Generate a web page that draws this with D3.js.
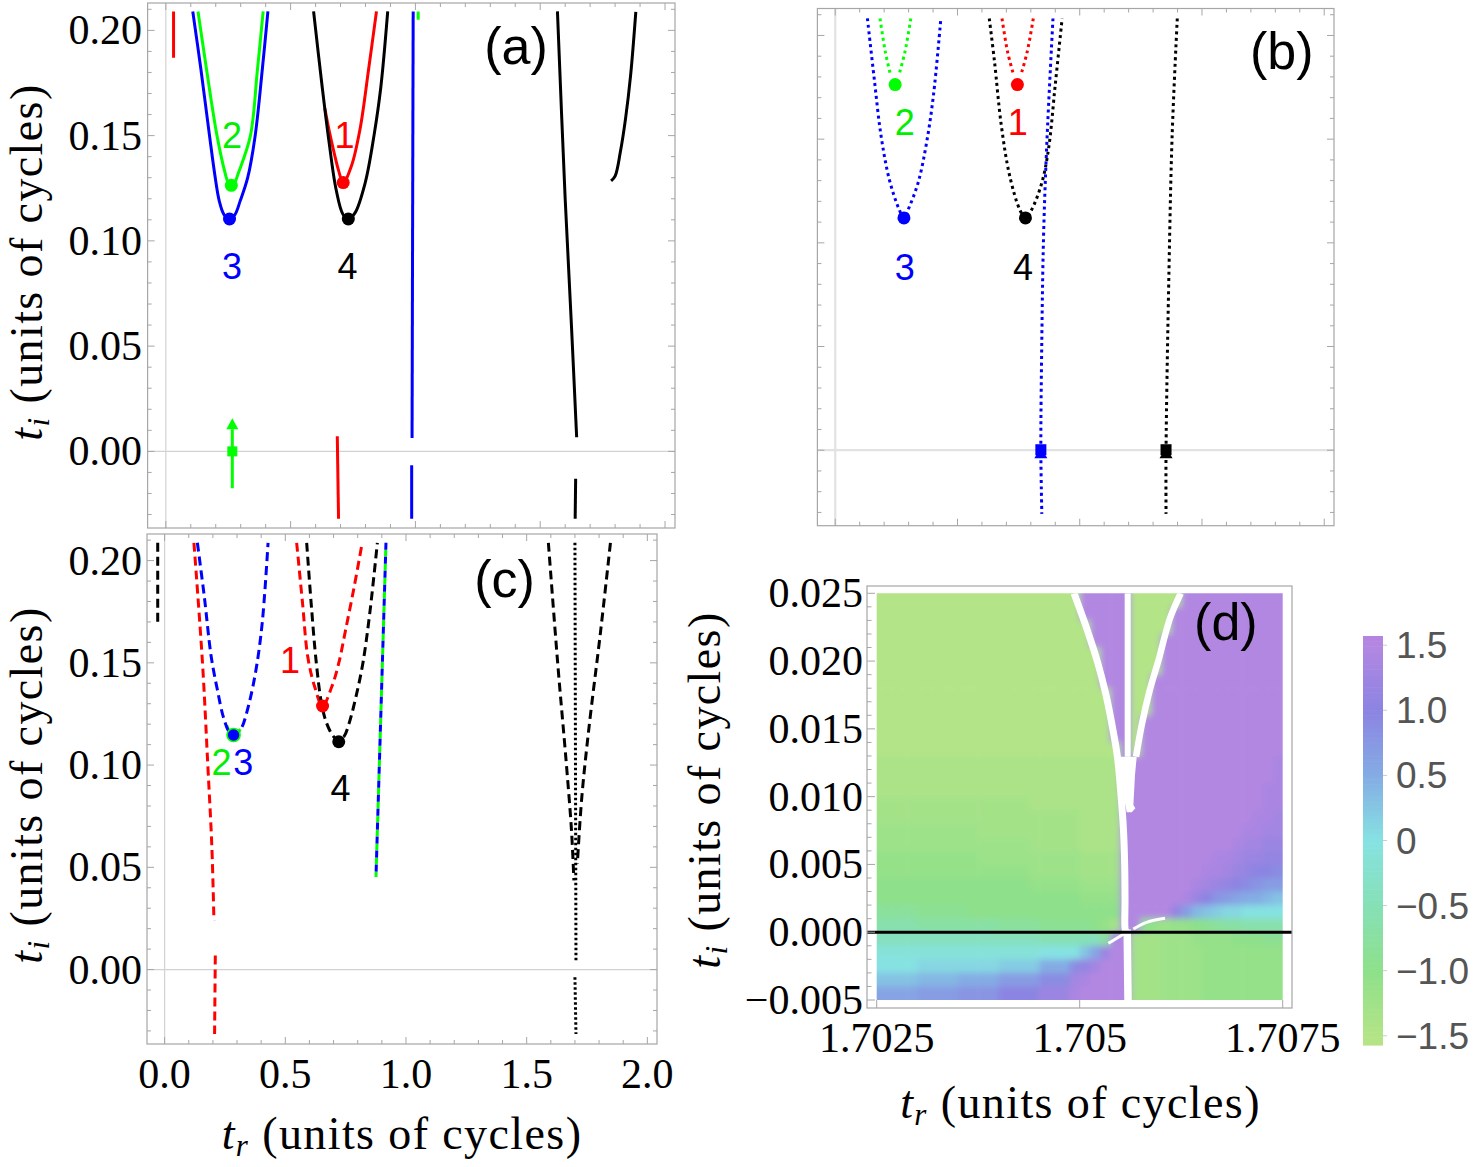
<!DOCTYPE html>
<html>
<head>
<meta charset="utf-8">
<script src="https://cdn.jsdelivr.net/npm/d3@7/dist/d3.min.js"></script>
<style>
html,body{margin:0;padding:0;background:#fff;}
svg{display:block;}
</style>
</head>
<body>
<svg id="chart" width="1475" height="1167" xmlns="http://www.w3.org/2000/svg"></svg>
<script>
// ================= DATA =================
const xTickValues = [0, 0.5, 1, 1.5, 2];
const xTickLabels = ["0.0", "0.5", "1.0", "1.5", "2.0"];
const yTickValues = [0, 0.05, 0.1, 0.15, 0.2];
const yTickLabels = ["0.00", "0.05", "0.10", "0.15", "0.20"];
const xDomain = [-0.073, 2.04];
const yDomain = [-0.0364, 0.213];

// ---- panel (a): solid curves (t_r, t_i) ----
const aBlue3 = [[0.108,0.209],[0.140,0.182],[0.175,0.150],[0.198,0.130],[0.214,0.119],[0.233,0.1125],[0.255,0.1104],[0.277,0.1125],[0.298,0.119],[0.328,0.130],[0.358,0.150],[0.387,0.182],[0.409,0.209]];
const aGreen2 = [[0.129,0.209],[0.165,0.180],[0.205,0.150],[0.238,0.132],[0.250,0.1275],[0.262,0.1264],[0.275,0.1275],[0.290,0.132],[0.339,0.150],[0.366,0.180],[0.390,0.209]];
const aRed1 = [[0.637,0.163],[0.655,0.152],[0.673,0.1425],[0.692,0.1335],[0.7107,0.1277],[0.744,0.1357],[0.778,0.153],[0.813,0.182],[0.844,0.209]];
const aBlack4 = [[0.592,0.209],[0.627,0.1726],[0.654,0.1469],[0.682,0.1245],[0.710,0.1125],[0.7312,0.1104],[0.758,0.1133],[0.799,0.1277],[0.834,0.150],[0.861,0.1726],[0.889,0.209]];
const aRedTop = [[0.031,0.209],[0.031,0.187]];
const aRedLow = [[0.687,0.0072],[0.692,-0.032]];
const aBlueVert = [[0.991,0.209],[0.9865,0.0063]];
const aBlueVertLow = [[0.985,-0.0066],[0.985,-0.032]];
const aGreenTop = [[1.011,0.209],[1.011,0.205]];
const aBlackVert = [[1.569,0.209],[1.600,0.120],[1.625,0.060],[1.646,0.0067]];
const aBlackVertLow = [[1.642,-0.013],[1.640,-0.032]];
const aBlackRight = [[1.784,0.1285],[1.8005,0.1309],[1.821,0.1422],[1.842,0.1582],[1.8625,0.1791],[1.883,0.2088]];
const aGreenArrow = {x: 0.2664, yLow: -0.0175, yBase: 0.0105, yTip: 0.0157, yMark: 0};
const aDots = [[0.2552,0.1104,"#0000ff"],[0.2624,0.1264,"#00ff00"],[0.7107,0.1277,"#ff0000"],[0.7312,0.1104,"#000000"]];
const aNumLabels = [["2",0.265,0.1505,"#00ee00"],["1",0.716,0.1505,"#ff0000"],["3",0.265,0.0883,"#0000ff"],["4",0.728,0.0883,"#000000"]];

// ---- panel (b): dotted curves ----
const bGreenL = [[0.183,0.2082],[0.205,0.192],[0.224,0.182]];
const bGreenR = [[0.309,0.2082],[0.285,0.192],[0.263,0.182]];
const bRedL = [[0.682,0.2082],[0.705,0.192],[0.727,0.182]];
const bRedR = [[0.810,0.2082],[0.785,0.192],[0.762,0.182]];
const bBlue3 = [[0.1316,0.2082],[0.159,0.1796],[0.187,0.1519],[0.221,0.1306],[0.259,0.1168],[0.281,0.1119],[0.2977,0.1159],[0.339,0.129],[0.374,0.1486],[0.402,0.1715],[0.432,0.2082]];
const bBlack4 = [[0.630,0.2082],[0.651,0.1878],[0.679,0.1568],[0.7135,0.1323],[0.755,0.1159],[0.778,0.1119],[0.803,0.1159],[0.845,0.129],[0.8725,0.1454],[0.900,0.1764],[0.928,0.2082]];
const bBlueVert = [[0.8906,0.2082],[0.8656,0.1486],[0.852,0.103],[0.845,0.0541],[0.841,0],[0.845,-0.0307]];
const bBlackVert = [[1.399,0.2082],[1.378,0.1519],[1.365,0.0867],[1.353,0],[1.353,-0.0307]];
const bDots = [[0.245,0.1763,"#00ff00"],[0.745,0.1763,"#ff0000"],[0.281,0.112,"#0000ff"],[0.778,0.112,"#000000"]];
const bSquares = [[0.841,0,"#0000ff"],[1.353,0,"#000000"]];
const bNumLabels = [["2",0.284,0.1584,"#00ee00"],["1",0.747,0.1584,"#ff0000"],["3",0.284,0.0883,"#0000ff"],["4",0.768,0.0883,"#000000"]];

// ---- panel (c): dashed curves ----
const cBlackLeft = [[-0.0286,0.2087],[-0.0286,0.1694]];
const cRedLong = [[0.1214,0.2087],[0.157,0.1498],[0.1786,0.1008],[0.1957,0.060],[0.2043,0.024]];
const cRedLow = [[0.210,0.0069],[0.207,-0.0315]];
const cBlue23 = [[0.1357,0.2087],[0.1643,0.1825],[0.1929,0.1531],[0.2186,0.1368],[0.2429,0.1237],[0.2671,0.1163],[0.2857,0.1147],[0.3071,0.1163],[0.3214,0.1188],[0.35,0.1302],[0.3786,0.1466],[0.4043,0.1694],[0.4286,0.2087]];
const cGreenTip = [[0.2571,0.1195],[0.2714,0.1158],[0.2857,0.1147],[0.3000,0.1157],[0.3143,0.1175]];
const cRed1 = [[0.5471,0.2087],[0.5714,0.1792],[0.5929,0.1531],[0.6214,0.1384],[0.6543,0.1289],[0.6929,0.1384],[0.7214,0.1498],[0.75,0.1662],[0.7857,0.1874],[0.8186,0.2087]];
const cBlack4 = [[0.5886,0.2087],[0.6071,0.1792],[0.6286,0.1498],[0.65,0.1302],[0.6714,0.1204],[0.70,0.1139],[0.7214,0.1119],[0.7429,0.1139],[0.7643,0.1204],[0.7929,0.1335],[0.8214,0.1498],[0.85,0.1743],[0.8814,0.2087]];
const cBlueGreenVert = [[0.9171,0.2087],[0.8757,0.0453]];
const cBlackVL = [[1.590,0.2087],[1.6286,0.1498],[1.6643,0.1008],[1.6857,0.0681],[1.6957,0.0436]];
const cBlackVR = [[1.8471,0.2087],[1.8071,0.1662],[1.7571,0.1172],[1.7286,0.0845],[1.710,0.0518]];
const cBlackMid = [[1.700,0.2087],[1.7043,0.0036]];
const cBlackMidLow = [[1.700,-0.0038],[1.7043,-0.0315]];
const cDots = [[0.6543,0.1289,"#ff0000","none"],[0.7214,0.1114,"#000000","none"],[0.2857,0.1147,"#0000ff","#00ff00"]];
const cNumLabels = [["1",0.5195,0.1512,"#ff0000"],["2",0.2357,0.1016,"#00ee00"],["3",0.3257,0.1016,"#0000ff"],["4",0.7286,0.0886,"#000000"]];

// ---- panel (d): phase density plot ----
const dXDomain = [1.7025, 1.7075];
const dYDomain = [-0.005, 0.025];
const dXTickValues = [1.7025, 1.705, 1.7075];
const dXTickLabels = ["1.7025", "1.705", "1.7075"];
const dYTickValues = [-0.005, 0, 0.005, 0.01, 0.015, 0.02, 0.025];
const dYTickLabels = ["\u22120.005", "0.000", "0.005", "0.010", "0.015", "0.020", "0.025"];
// grid: 40 columns x 30 rows (top row first), run-length encoded; letter index -> value -1.5 + 0.1*idx
const phaseLevels = "abcdefghijklmnopqrstuvwxyzABCDE";
const phaseRows = [
  "a20 E5 a5 E10", "a20 E5 a4 E11", "a21 E4 a4 E11", "a21 E4 a3 E12", "a22 E3 a3 E12",
  "a22 E3 a3 E12", "a22 E3 a2 E13", "a23 E2 a2 E13", "a23 E2 a2 E13", "a23 E2 a1 E14",
  "a23 E2 a1 E14", "a24 E1 a1 E14", "b24 E15 D1", "b24 E15 D1", "b24 E14 D2",
  "c15 b9 E14 D2", "c20 b4 E13 D2 C1", "d10 c10 b4 E12 D2 C2", "d15 c5 b4 E11 D1 C2 B2", "e10 d10 c4 E9 D2 C1 B2 A2",
  "e15 d5 c4 E8 D2 C1 B1 A1 z2 y1", "f15 e5 d4 E7 D1 C1 B1 A1 z1 y1 x1 w2", "f20 e4 E6 D1 B1 z1 x1 w1 v1 u2 t1 s1", "h4 g5 f15 E5 A1 w1 t1 s1 r1 q2 p4", "j4 i8 h4 g5 f1 e1 c1 E2 f1 e1 d1 e2 f1 g1 h1 i2 j4",
  "l16 k5 l1 h1 D1 E1 c3 d3 e4 f3 g2", "o16 p4 s1 v1 B1 E1 E1 c3 d4 e8", "p4 q8 r4 u3 y1 A1 C1 E2 E1 c3 d4 e8", "s4 t4 u4 w4 y3 C1 D1 E3 E1 c3 d4 e8", "v4 w4 x4 z4 B3 D1 E4 E1 c3 d4 e8"
];
const dCut1 = [[1.704930,0.025],[1.705086,0.022418],[1.705218,0.019959],[1.705324,0.0175],[1.705406,0.015041],[1.705464,0.012951],[1.705505,0.010369],[1.705538,0.007664],[1.705554,0.004959],[1.705558,0.002254],[1.705558,0.000287],[1.705575,-0.0002]];
const dBand2 = [[1.705591,0.025],[1.705591,0.012951]];
const dCut3 = [[1.706244,0.025],[1.706112,0.023156],[1.705977,0.020205],[1.705858,0.017746],[1.705764,0.015287],[1.705694,0.012951]];
const dBlob = [[1.705476,0.012951],[1.705702,0.012951],[1.705681,0.011598],[1.705661,0.009385],[1.705686,0.009139],[1.705641,0.008844],[1.705579,0.008844],[1.705538,0.010123],[1.705505,0.011598]];
const dBar = [[1.705585,0.0002],[1.705595,-0.005]];
const dArcA = [[1.705353,-0.00082],[1.705456,-0.000451],[1.705538,-0.000156]];
const dArcB = [[1.706051,0.001025],[1.705825,0.00073],[1.705661,0.000238]];

// colour bar
const cbTickValues = [-1.5, -1, -0.5, 0, 0.5, 1, 1.5];
const cbTickLabels = ["\u22121.5", "\u22121.0", "\u22120.5", "0", "0.5", "1.0", "1.5"];
const cbStops = [-1.5708, -1.5, -1, -0.5, 0, 0.5, 1, 1.5, 1.5708];
const cbColors = ["#b6e485", "#b3e487", "#8ee08a", "#86e0b6", "#86e2e2", "#84ace4", "#8c84e2", "#b287e2", "#b683e0"];

// ================= DRAWING =================
const SERIF = "'Liberation Serif','Times New Roman',serif";
const SANS = "'Liberation Sans',Arial,Helvetica,sans-serif";
const svg = d3.select("#chart");
const defs = svg.append("defs");

const panelBoxes = {
  a: {x: [147.6, 675], y: [528, 3]},
  b: {x: [817.4, 1334], y: [525.7, 8.5]},
  c: {x: [147, 657], y: [1044, 534]}
};

function makePanel(key, zeroW, zeroC) {
  const box = panelBoxes[key];
  const xs = d3.scaleLinear().domain(xDomain).range(box.x);
  const ys = d3.scaleLinear().domain(yDomain).range(box.y);
  const g = svg.append("g");
  defs.append("clipPath").attr("id", "clip-" + key).append("rect")
    .attr("x", box.x[0]).attr("y", box.y[1]).attr("width", box.x[1] - box.x[0]).attr("height", box.y[0] - box.y[1]);
  g.append("line").attr("x1", xs(0)).attr("x2", xs(0)).attr("y1", box.y[1]).attr("y2", box.y[0])
    .attr("stroke", zeroC).attr("stroke-width", zeroW);
  g.append("line").attr("x1", box.x[0]).attr("x2", box.x[1]).attr("y1", ys(0)).attr("y2", ys(0))
    .attr("stroke", zeroC).attr("stroke-width", zeroW);
  g.append("rect").attr("x", box.x[0]).attr("y", box.y[1]).attr("width", box.x[1] - box.x[0]).attr("height", box.y[0] - box.y[1])
    .attr("fill", "none").attr("stroke", "#a6a6a6").attr("stroke-width", 1.2);
  const tg = g.append("g").attr("stroke", "#a6a6a6").attr("stroke-width", 1);
  d3.range(0, 2.0001, 0.1).forEach(v => {
    const L = Math.abs(v * 2 - Math.round(v * 2)) < 1e-6 ? 7 : 4;
    tg.append("line").attr("x1", xs(v)).attr("x2", xs(v)).attr("y1", box.y[0]).attr("y2", box.y[0] - L);
    tg.append("line").attr("x1", xs(v)).attr("x2", xs(v)).attr("y1", box.y[1]).attr("y2", box.y[1] + L);
  });
  d3.range(-0.03, 0.2101, 0.01).forEach(v => {
    const L = Math.abs(v * 20 - Math.round(v * 20)) < 1e-6 ? 7 : 4;
    tg.append("line").attr("y1", ys(v)).attr("y2", ys(v)).attr("x1", box.x[0]).attr("x2", box.x[0] + L);
    tg.append("line").attr("y1", ys(v)).attr("y2", ys(v)).attr("x1", box.x[1]).attr("x2", box.x[1] - L);
  });
  const plot = g.append("g").attr("clip-path", "url(#clip-" + key + ")");
  return {xs, ys, g, plot, box};
}

function drawLine(P, data, color, width, dash, offset) {
  const gen = d3.line().x(d => P.xs(d[0])).y(d => P.ys(d[1])).curve(d3.curveCatmullRom.alpha(0.5));
  const p = P.plot.append("path").attr("d", gen(data)).attr("fill", "none")
    .attr("stroke", color).attr("stroke-width", width).attr("stroke-linecap", "butt").attr("stroke-linejoin", "round");
  if (dash) p.attr("stroke-dasharray", dash);
  if (offset) p.attr("stroke-dashoffset", offset);
  return p;
}

function drawDots(P, dots, r) {
  dots.forEach(d => {
    P.plot.append("circle").attr("cx", P.xs(d[0])).attr("cy", P.ys(d[1])).attr("r", r)
      .attr("fill", d[2]).attr("stroke", d[3] && d[3] !== "none" ? d[3] : "none").attr("stroke-width", 1.6);
  });
}

function drawNums(P, labels) {
  labels.forEach(l => {
    P.g.append("text").attr("x", P.xs(l[1])).attr("y", P.ys(l[2]) + 13)
      .attr("text-anchor", "middle").attr("font-family", SANS).attr("font-size", 36)
      .attr("fill", l[3]).text(l[0]);
  });
}

function panelLetter(P, txt, x, y) {
  P.g.append("text").attr("x", P.xs(x)).attr("y", P.ys(y)).attr("text-anchor", "middle")
    .attr("font-family", SANS).attr("font-size", 52).attr("fill", "#000").text(txt);
}

function yTickText(P, xRight) {
  yTickValues.forEach((v, i) => {
    svg.append("text").attr("x", xRight).attr("y", P.ys(v) + 14).attr("text-anchor", "end")
      .attr("font-family", SERIF).attr("font-size", 42).attr("fill", "#000").text(yTickLabels[i]);
  });
}

function axisTitle(x, y, rotate, sub) {
  const t = svg.append("text")
    .attr("transform", "translate(" + x + "," + y + ")" + (rotate ? " rotate(-90)" : ""))
    .attr("text-anchor", "middle").attr("font-family", SERIF).attr("font-size", 46)
    .attr("letter-spacing", 1.4).attr("fill", "#000");
  t.append("tspan").attr("font-style", "italic").text("t");
  t.append("tspan").attr("font-style", "italic").attr("font-size", 31).attr("dy", 7).text(sub);
  t.append("tspan").attr("dy", -7).text(" (units of cycles)");
}

// ---------- panel (a) ----------
const A = makePanel("a", 1.2, "#d2d2d2");
const SW = 3;
drawLine(A, aBlue3, "#0000ff", SW);
drawLine(A, aGreen2, "#00ff00", SW);
drawLine(A, aRed1, "#ff0000", SW);
drawLine(A, aBlack4, "#000000", SW);
drawLine(A, aRedTop, "#ff0000", SW);
drawLine(A, aRedLow, "#ff0000", SW);
drawLine(A, aBlueVert, "#0000ff", SW);
drawLine(A, aBlueVertLow, "#0000ff", SW);
drawLine(A, aGreenTop, "#00ff00", SW);
drawLine(A, aBlackVert, "#000000", SW);
drawLine(A, aBlackVertLow, "#000000", SW);
drawLine(A, aBlackRight, "#000000", SW);
{
  const ax = A.xs(aGreenArrow.x);
  A.plot.append("line").attr("x1", ax).attr("x2", ax).attr("y1", A.ys(aGreenArrow.yLow)).attr("y2", A.ys(aGreenArrow.yBase))
    .attr("stroke", "#00ff00").attr("stroke-width", 3);
  const tip = A.ys(aGreenArrow.yTip), base = A.ys(aGreenArrow.yBase);
  A.plot.append("path").attr("d", `M${ax},${tip}L${ax - 6},${base}L${ax + 6},${base}Z`).attr("fill", "#00ff00");
  const my = A.ys(aGreenArrow.yMark);
  A.plot.append("rect").attr("x", ax - 5).attr("y", my - 5).attr("width", 10).attr("height", 10).attr("fill", "#00ff00");
}
drawDots(A, aDots, 6.5);
drawNums(A, aNumLabels);
panelLetter(A, "(a)", 1.403, 0.184);
yTickText(A, 142);
axisTitle(42, 262, true, "i");

// ---------- panel (b) ----------
const B = makePanel("b", 2.2, "#e2e2e2");
const DOT = "3,3.5";
drawLine(B, bBlue3, "#0000ff", 3, DOT);
drawLine(B, bBlack4, "#000000", 3, DOT);
drawLine(B, bGreenL, "#00ff00", 3, DOT);
drawLine(B, bGreenR, "#00ff00", 3, DOT);
drawLine(B, bRedL, "#ff0000", 3, DOT);
drawLine(B, bRedR, "#ff0000", 3, DOT);
drawLine(B, bBlueVert, "#0000ff", 3, DOT);
drawLine(B, bBlackVert, "#000000", 3, DOT);
drawDots(B, bDots, 6.5);
bSquares.forEach(s => {
  const sx = B.xs(s[0]), sy = B.ys(s[1]);
  B.plot.append("path").attr("d", `M${sx},${sy - 3}L${sx - 6.5},${sy + 8}L${sx + 6.5},${sy + 8}Z`).attr("fill", s[2]);
  B.plot.append("rect").attr("x", sx - 5.5).attr("y", sy - 6).attr("width", 11).attr("height", 11).attr("fill", s[2]);
});
drawNums(B, bNumLabels);
panelLetter(B, "(b)", 1.826, 0.1838);

// ---------- panel (c) ----------
const C = makePanel("c", 1.2, "#d2d2d2");
const DASH = "9,5";
drawLine(C, cBlackLeft, "#000000", 3, DASH);
drawLine(C, cRedLong, "#ff0000", 3, DASH);
drawLine(C, cRedLow, "#ff0000", 3, DASH);
drawLine(C, cGreenTip, "#00ff00", 3);
drawLine(C, cBlue23, "#0000ff", 3, DASH);
drawLine(C, cRed1, "#ff0000", 3, DASH);
drawLine(C, cBlack4, "#000000", 3, DASH);
drawLine(C, cBlueGreenVert, "#00ff00", 3, "7,7", 7);
drawLine(C, cBlueGreenVert, "#0000ff", 3, "7,7");
drawLine(C, cBlackVL, "#000000", 3, DASH);
drawLine(C, cBlackVR, "#000000", 3, DASH);
drawLine(C, cBlackMid, "#000000", 3, "2.5,2.5");
drawLine(C, cBlackMidLow, "#000000", 3, "2.5,2.5");
drawDots(C, cDots, 6.5);
drawNums(C, cNumLabels);
panelLetter(C, "(c)", 1.408, 0.182);
yTickText(C, 142);
xTickValues.forEach((v, i) => {
  svg.append("text").attr("x", C.xs(v)).attr("y", 1088).attr("text-anchor", "middle")
    .attr("font-family", SERIF).attr("font-size", 42).attr("fill", "#000").text(xTickLabels[i]);
});
axisTitle(42, 785, true, "i");
axisTitle(402, 1149, false, "r");

// ---------- panel (d) ----------
const dxs = d3.scaleLinear().domain(dXDomain).range([876.7, 1282.7]);
const dys = d3.scaleLinear().domain(dYDomain).range([1000, 593.3]);
const color = d3.scaleLinear().domain(cbStops).range(cbColors).clamp(true);
const D = svg.append("g");
defs.append("clipPath").attr("id", "clip-d").append("rect")
  .attr("x", dxs(dXDomain[0])).attr("y", dys(dYDomain[1])).attr("width", dxs(dXDomain[1]) - dxs(dXDomain[0])).attr("height", dys(dYDomain[0]) - dys(dYDomain[1]));
const soft = defs.append("filter").attr("id", "soft").attr("x", "-10%").attr("y", "-10%").attr("width", "120%").attr("height", "120%");
soft.append("feGaussianBlur").attr("stdDeviation", 3);
const dPlot = D.append("g").attr("clip-path", "url(#clip-d)");
const cellG = dPlot.append("g").attr("filter", "url(#soft)");
const nCols = 40, nRows = 30;
const dx = (dXDomain[1] - dXDomain[0]) / nCols, dyv = (dYDomain[1] - dYDomain[0]) / nRows;
const cells = [];
phaseRows.forEach((row, r) => {
  let c = 0;
  row.split(" ").forEach(tok => {
    const ch = tok[0], n = +tok.slice(1);
    const v = -1.5 + 0.1 * phaseLevels.indexOf(ch);
    for (let k = 0; k < n; k++) { cells.push({r, c, v}); c++; }
  });
});
const PAD = 14; // edge cells extended so the smoothing does not fade at the border
cellG.selectAll("rect.cell").data(cells).enter().append("rect").attr("class", "cell")
  .attr("x", d => dxs(dXDomain[0] + d.c * dx) - (d.c === 0 ? PAD : 0))
  .attr("y", d => dys(dYDomain[1] - d.r * dyv) - (d.r === 0 ? PAD : 0))
  .attr("width", d => dxs(dXDomain[0] + (d.c + 1) * dx) - dxs(dXDomain[0] + d.c * dx) + 0.7 + (d.c === 0 || d.c === nCols - 1 ? PAD : 0))
  .attr("height", d => dys(dYDomain[1] - (d.r + 1) * dyv) - dys(dYDomain[1] - d.r * dyv) + 0.7 + (d.r === 0 || d.r === nRows - 1 ? PAD : 0))
  .attr("fill", d => color(d.v));
const dLine = d3.line().x(d => dxs(d[0])).y(d => dys(d[1])).curve(d3.curveCatmullRom.alpha(0.5));
dPlot.append("path").attr("d", dLine(dCut1)).attr("fill", "none").attr("stroke", "#fff").attr("stroke-width", 7);
dPlot.append("path").attr("d", dLine(dBand2)).attr("fill", "none").attr("stroke", "#fff").attr("stroke-width", 6);
dPlot.append("path").attr("d", dLine(dCut3)).attr("fill", "none").attr("stroke", "#fff").attr("stroke-width", 6.5);
dPlot.append("path").attr("d", d3.line().x(d => dxs(d[0])).y(d => dys(d[1]))(dBlob) + "Z").attr("fill", "#fff");
dPlot.append("path").attr("d", dLine(dBar)).attr("fill", "none").attr("stroke", "#fff").attr("stroke-width", 7.5);
dPlot.append("path").attr("d", dLine(dArcA)).attr("fill", "none").attr("stroke", "#fff").attr("stroke-width", 3);
dPlot.append("path").attr("d", dLine(dArcB)).attr("fill", "none").attr("stroke", "#fff").attr("stroke-width", 3);
const dFrame = {x0: 867, x1: 1292, y0: 586, y1: 1008};
D.append("line").attr("x1", dFrame.x0).attr("x2", dFrame.x1).attr("y1", dys(0)).attr("y2", dys(0))
  .attr("stroke", "#000").attr("stroke-width", 3);
D.append("rect").attr("x", dFrame.x0).attr("y", dFrame.y0).attr("width", dFrame.x1 - dFrame.x0).attr("height", dFrame.y1 - dFrame.y0)
  .attr("fill", "none").attr("stroke", "#a6a6a6").attr("stroke-width", 1.2);
const dtg = D.append("g").attr("stroke", "#a6a6a6").attr("stroke-width", 1);
d3.range(-0.005, 0.02501, 0.001).forEach(v => {
  const L = Math.abs(v * 200 - Math.round(v * 200)) < 1e-6 ? 8 : 4.5;
  dtg.append("line").attr("x1", dFrame.x0).attr("x2", dFrame.x0 + L).attr("y1", dys(v)).attr("y2", dys(v));
});
dXTickValues.forEach(v => {
  dtg.append("line").attr("x1", dxs(v)).attr("x2", dxs(v)).attr("y1", dFrame.y1).attr("y2", dFrame.y1 - 8);
});
dYTickValues.forEach((v, i) => {
  svg.append("text").attr("x", 863).attr("y", dys(v) + 14).attr("text-anchor", "end")
    .attr("font-family", SERIF).attr("font-size", 42).attr("fill", "#000").text(dYTickLabels[i]);
});
dXTickValues.forEach((v, i) => {
  svg.append("text").attr("x", dxs(v)).attr("y", 1052).attr("text-anchor", "middle")
    .attr("font-family", SERIF).attr("font-size", 42).attr("fill", "#000").text(dXTickLabels[i]);
});
D.append("text").attr("x", dxs(1.70680)).attr("y", dys(0.02156)).attr("text-anchor", "middle")
  .attr("font-family", SANS).attr("font-size", 52).attr("fill", "#000").text("(d)");
axisTitle(720, 790, true, "i");
axisTitle(1080.5, 1118, false, "r");

// ---------- colour bar ----------
const cbY = d3.scaleLinear().domain([-1.5708, 1.5708]).range([1045, 636]);
const cbG = svg.append("g");
const nSteps = 160;
d3.range(nSteps).forEach(i => {
  const v0 = -1.5708 + i * (3.1416 / nSteps), v1 = v0 + 3.1416 / nSteps;
  cbG.append("rect").attr("x", 1363).attr("y", cbY(v1)).attr("width", 20).attr("height", cbY(v0) - cbY(v1) + 0.6)
    .attr("fill", color((v0 + v1) / 2));
});
cbTickValues.forEach((v, i) => {
  cbG.append("line").attr("x1", 1383).attr("x2", 1387).attr("y1", cbY(v)).attr("y2", cbY(v)).attr("stroke", "#ccc");
  cbG.append("text").attr("x", 1396).attr("y", cbY(v) + 13).attr("font-family", SANS).attr("font-size", 37)
    .attr("fill", "#555").text(cbTickLabels[i]);
});
</script>
</body>
</html>
